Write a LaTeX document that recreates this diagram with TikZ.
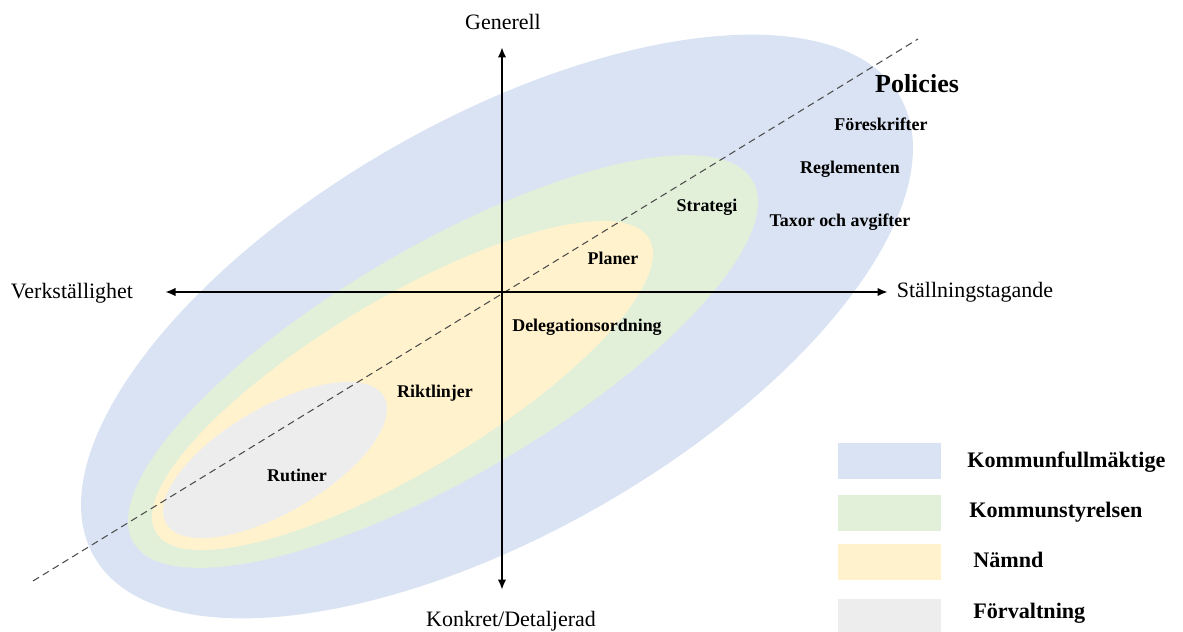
\documentclass[tikz,border=0pt]{standalone}
\usepackage{fontspec}
\setmainfont{Liberation Serif}
\usetikzlibrary{arrows.meta,positioning}

\definecolor{kfblue}{HTML}{DAE3F3}
\definecolor{ksgreen}{HTML}{E2F0D9}
\definecolor{nmdyellow}{HTML}{FFF2CC}
\definecolor{forvgray}{HTML}{EDEDED}

\tikzset{
  axisarrow/.style={line width=1.4pt,{Latex[length=2.1mm,width=1.7mm]}-{Latex[length=2.1mm,width=1.7mm]}},
  axlabel/.style={font=\fontsize{12.5}{14}\selectfont},
  lbl/.style={font=\bfseries\fontsize{10.2}{12}\selectfont},
  leglbl/.style={font=\bfseries\fontsize{12.6}{14}\selectfont,anchor=west,inner sep=0pt},
  legbox/.style={minimum width=20.6mm,minimum height=7.2mm,inner sep=0pt},
}

\begin{document}
\begin{tikzpicture}[x=0.2mm,y=0.2mm]
\useasboundingbox (0,0) rectangle (1183,631);
% levels
\fill[kfblue,rotate around={29.7:(497,304.5)}] (497,304.5) ellipse [x radius=92.8mm,y radius=41.4mm];
\fill[ksgreen,rotate around={30.3:(443,269.5)}] (443,269.5) ellipse [x radius=71.7mm,y radius=23mm];
\fill[nmdyellow,rotate around={30.8:(402.5,245.5)}] (402.5,245.5) ellipse [x radius=57.4mm,y radius=17.2mm];
\fill[forvgray,rotate around={30.3:(275,171)}] (275,171) ellipse [x radius=25.2mm,y radius=10.5mm];

% diagonal
\coordinate (dlow) at (33,50);
\coordinate (dhigh) at (918,592);
\draw[gray!60!black,line width=0.6pt,dash pattern=on 1.4mm off 0.9mm] (dlow) -- (dhigh);

% axes
\coordinate (vtop) at (502,584);
\coordinate (vbot) at (502,41);
\coordinate (hleft) at (165,339);
\coordinate (hright) at (888,339);
\draw[axisarrow] (vbot) -- (vtop);
\draw[axisarrow] (hleft) -- (hright);
\node[axlabel] (generell) at (503,609) {Generell};
\node[axlabel] (konkret) at (511,10) {Konkret/Detaljerad};
\node[axlabel] (verkst) at (72,338) {Verkställighet};
\node[axlabel] (stalln) at (975,339) {Ställningstagande};

% documents
\node[font=\bfseries\fontsize{14.8}{17}\selectfont] (policies) at (917,547) {Policies};
\node[lbl] (foreskr) at (881,507) {Föreskrifter};
\node[lbl] (reglem) at (850,462) {Reglementen};
\node[lbl] (taxor) at (840,409) {Taxor och avgifter};
\node[lbl] (strategi) at (707,424) {Strategi};
\node[lbl] (planer) at (613,373) {Planer};
\node[lbl] (delegation) at (587,304) {Delegationsordning};
\node[lbl] (riktl) at (435,238) {Riktlinjer};
\node[lbl] (rutiner) at (297,156) {Rutiner};

% legend
\node[legbox,fill=kfblue] (kfbox) at (889.5,170) {};
\node[legbox,fill=ksgreen] (ksbox) at (889.5,118) {};
\node[legbox,fill=nmdyellow] (nmdbox) at (889.5,69) {};
\node[legbox,fill=forvgray] (forvbox) at (889.5,14) {};
\node[leglbl] (kf) at (967,169) {Kommunfullmäktige};
\node[leglbl] (ks) at (969,119) {Kommunstyrelsen};
\node[leglbl] (nmd) at (973,71) {Nämnd};
\node[leglbl] (forv) at (973,18) {Förvaltning};
\end{tikzpicture}
\end{document}
